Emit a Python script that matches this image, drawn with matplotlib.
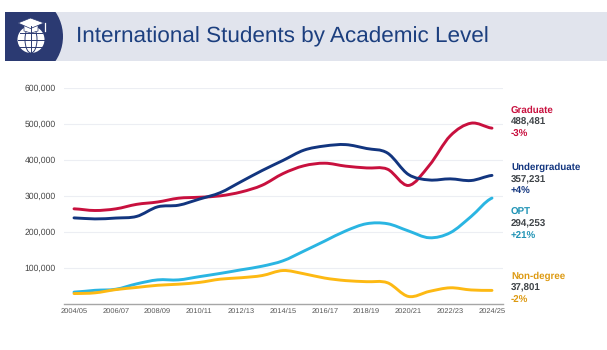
import numpy as np
import matplotlib
matplotlib.use('Agg')
import matplotlib.pyplot as plt
from matplotlib.path import Path
from matplotlib.patches import PathPatch, Circle, Ellipse, Polygon, Rectangle

plt.rcParams['font.family'] = ['Liberation Sans', 'DejaVu Sans']
plt.rcParams['text.hinting'] = 'no_hinting'
plt.rcParams['text.hinting_factor'] = 8

years = ['2004/05', '2005/06', '2006/07', '2007/08', '2008/09', '2009/10', '2010/11',
         '2011/12', '2012/13', '2013/14', '2014/15', '2015/16', '2016/17', '2017/18',
         '2018/19', '2019/20', '2020/21', '2021/22', '2022/23', '2023/24', '2024/25']
graduate = [264410, 259717, 264288, 276842, 283329, 293885, 296574, 300430, 311204, 329854,
            362228, 383935, 391124, 382953, 377943, 374435, 329272, 385097, 467027, 502291, 488481]
undergrad = [239212, 236342, 238749, 243360, 269874, 274431, 291439, 309342, 339993, 370724,
             398824, 427313, 439019, 442746, 431930, 419321, 359787, 344532, 347602, 343000, 357231]
opt = [33000, 38000, 41000, 56000, 67000, 67000, 76000, 85000, 95000, 105000,
       120000, 147000, 175000, 203000, 223000, 223000, 203000, 184000, 198000, 243000, 294253]
nondegree = [29000, 31000, 40000, 46000, 52000, 55000, 60000, 69000, 73000, 79000,
             93000, 84000, 72000, 65000, 62000, 59000, 21000, 35000, 45000, 39000, 37801]
yticks = [100000, 200000, 300000, 400000, 500000, 600000]

GRAD = '#c8103e'
UG = '#12357f'
OPT = '#2ab5e2'
ND = '#fdb913'
ICON = '#2b3a72'


def smooth_path(xs, ys):
    # catmull-rom through the values, as bezier segments
    verts = [(xs[0], ys[0])]
    codes = [Path.MOVETO]
    n = len(xs)
    for i in range(n - 1):
        p0 = ys[max(i - 1, 0)]
        p1 = ys[i]
        p2 = ys[i + 1]
        p3 = ys[min(i + 2, n - 1)]
        verts.append((xs[i] + 1 / 3, p1 + (p2 - p0) / 6))
        verts.append((xs[i + 1] - 1 / 3, p2 - (p3 - p1) / 6))
        verts.append((xs[i + 1], p2))
        codes += [Path.CURVE4, Path.CURVE4, Path.CURVE4]
    return Path(verts, codes)


W, H = 607, 350
fig = plt.figure(figsize=(W / 100, H / 100), dpi=100)

# header band and icon, in pixel coordinates
bg = fig.add_axes([0, 0, 1, 1])
bg.set_xlim(0, W)
bg.set_ylim(H, 0)
bg.axis('off')
band = Rectangle((5, 12), 602, 49, fc='#e1e4ed', ec='none')
bg.add_patch(band)
blob = Circle((19, 36.5), 44, fc=ICON, ec='none')
bg.add_patch(blob)
blob.set_clip_path(band)
bg.add_patch(Circle((31, 39.5), 13.5, fc='white', ec='none'))
bg.add_patch(Ellipse((31, 39.5), 12, 27, fc='none', ec=ICON, lw=0.7))
bg.plot([17.5, 44.5], [40, 40], color=ICON, lw=0.7)
bg.plot([31, 31], [26, 53], color=ICON, lw=0.7)
bg.plot([20, 42], [33, 33], color=ICON, lw=0.7)
bg.plot([20, 42], [47, 47], color=ICON, lw=0.7)
bg.add_patch(Polygon([(24, 25), (31, 28), (38, 25), (38, 31), (31, 33), (24, 31)], fc='white', ec=ICON, lw=0.5))
bg.add_patch(Polygon([(30.5, 18), (44, 23), (30.5, 28.5), (18, 23)], fc='white', ec=ICON, lw=0.5))
bg.plot([44.5, 44.5], [23, 31], color='white', lw=0.9)
bg.text(76.5, 36.5, 'International Students by Academic Level', fontsize=16.2,
        color='#1c3f7f', va='center', ha='left')

ax = fig.add_axes([64 / W, 1 - 304 / H, (503 - 64) / W, (304 - 88) / H])
ax.patch.set_alpha(0)
xs = np.arange(len(years))
for vals, col in [(opt, OPT), (nondegree, ND), (graduate, GRAD), (undergrad, UG)]:
    ax.add_patch(PathPatch(smooth_path(xs, vals), fc='none', ec=col, lw=2.1, capstyle='round', zorder=3))

ax.set_xlim(-10 / 20.9, 429 / 20.9)
ax.set_ylim(0, 600000)
ax.set_xticks(xs[::2])
ax.set_xticklabels(years[::2], fontsize=5.4, color='#555555')
ax.set_yticks(yticks)
ax.set_yticklabels(['{:,}'.format(v) for v in yticks], fontsize=6.2, color='#444444')
ax.tick_params(length=0, pad=3)
ax.tick_params(axis='y', pad=6)
ax.grid(axis='y', color='#eceef3', lw=0.8)
ax.set_axisbelow(True)
for s in ['top', 'right', 'left']:
    ax.spines[s].set_visible(False)
ax.spines['bottom'].set_color('#a6a6a6')
ax.spines['bottom'].set_linewidth(1.0)

# labels on the right
labels = [('Graduate', '488,481', '-3%', GRAD, 110),
          ('Undergraduate', '357,231', '+4%', UG, 167.5),
          ('OPT', '294,253', '+21%', '#1f93b5', 212),
          ('Non-degree', '37,801', '-2%', '#dd9a12', 276)]
for name, val, pct, c1, y in labels:
    bg.text(511, y, name, fontsize=7, fontweight='bold', color=c1, va='center')
    bg.text(511, y + 12, val, fontsize=7, fontweight='bold', color='#404549', va='center')
    bg.text(511, y + 24, pct, fontsize=7, fontweight='bold', color=c1, va='center')

fig.savefig('out.png', dpi=100)
